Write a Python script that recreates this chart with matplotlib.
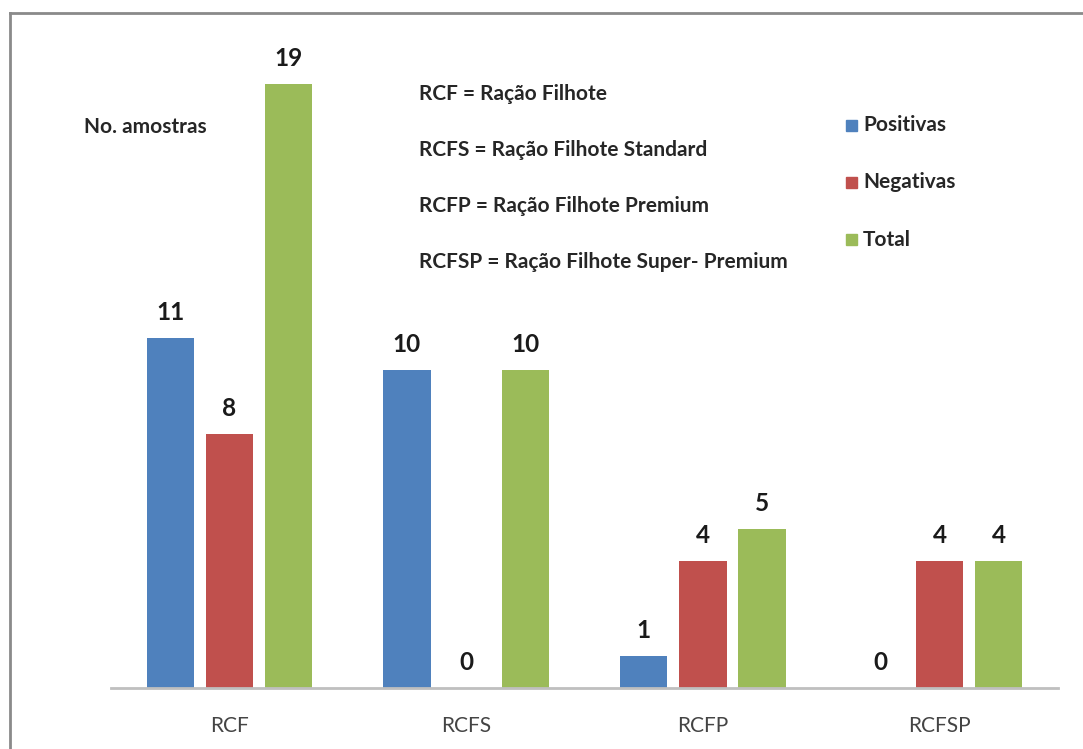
import matplotlib
matplotlib.use("Agg")
import matplotlib.pyplot as plt
from matplotlib.lines import Line2D
import numpy as np

categories = ["RCF", "RCFS", "RCFP", "RCFSP"]
positivas = [11, 10, 1, 0]
negativas = [8, 0, 4, 4]
total = [19, 10, 5, 4]
series_names = ["Positivas", "Negativas", "Total"]
colors = ["#4F81BD", "#C0504D", "#9BBB59"]
definitions = [
    "RCF = Ração Filhote",
    "RCFS = Ração Filhote Standard",
    "RCFP = Ração Filhote Premium",
    "RCFSP = Ração Filhote Super- Premium",
]
ylabel_text = "No. amostras"

plt.rcParams['font.family'] = ['Lato', 'DejaVu Sans']

W, H = 1083, 749
fig = plt.figure(figsize=(W / 100, H / 100), dpi=100)
fig.patch.set_facecolor("white")

def fx(x):
    return x / W

def fy(y):
    return 1 - y / H

# axes placement (pixel coords from top-left)
left_px, right_px = 111, 1058
bottom_px, top_px = 688, 52
ax = fig.add_axes([fx(left_px), fy(bottom_px), (right_px - left_px) / W, (bottom_px - top_px) / H])
ax.set_facecolor("none")

x = np.arange(len(categories))
width = 0.2
step = 0.25
data = [positivas, negativas, total]
for i, (vals, c) in enumerate(zip(data, colors)):
    xs = x + (i - 1) * step
    bars = ax.bar(xs, vals, width=width, color=c, zorder=2)
    for bx, v in zip(xs, vals):
        ax.annotate(str(v), (bx, v), xytext=(0, 13), textcoords="offset points",
                    ha="center", va="baseline", fontsize=17.5, fontweight="bold",
                    color="#1a1a1a")

ax.set_xlim(-0.5, len(categories) - 0.5)
ax.set_ylim(0, 20)
ax.set_xticks(x)
ax.set_xticklabels(categories, fontsize=15, color="#444444")
ax.tick_params(axis="x", length=0, pad=20)
ax.set_yticks([])
for s in ["top", "right", "left"]:
    ax.spines[s].set_visible(False)
ax.spines["bottom"].set_color("#BFBFBF")
ax.spines["bottom"].set_linewidth(2)

# y label text
fig.text(fx(84), fy(127), ylabel_text, fontsize=15, fontweight="bold",
         color="#262626", va="center", ha="left")

# definitions
for k, d in enumerate(definitions):
    fig.text(fx(419), fy(94 + k * 56), d, fontsize=15, fontweight="bold",
             color="#262626", va="center", ha="left")

# legend
for k, (name, c) in enumerate(zip(series_names, colors)):
    yy = 125 + k * 57.5
    fig.patches.append(plt.Rectangle((fx(846), fy(yy + 5.5)), 11 / W, 11 / H,
                                     transform=fig.transFigure, color=c, figure=fig))
    fig.text(fx(863), fy(yy), name, fontsize=15, fontweight="bold",
             color="#262626", va="center", ha="left")

# frame border
fig.lines.append(Line2D([fx(10), 1.0], [fy(13), fy(13)], transform=fig.transFigure,
                        color="#8a8a8a", linewidth=2))
fig.lines.append(Line2D([fx(10), fx(10)], [fy(13), 0.0], transform=fig.transFigure,
                        color="#8a8a8a", linewidth=2))

fig.savefig("out.png", dpi=100, facecolor="white")
